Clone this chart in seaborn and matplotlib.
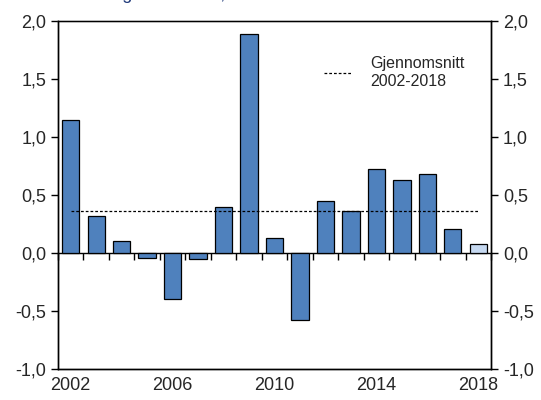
import numpy as np
import pandas as pd
import matplotlib
matplotlib.use("Agg")
import matplotlib.pyplot as plt
import seaborn as sns
import matplotlib.ticker as mticker

years = [str(y) for y in range(2002, 2019)]
values = [1.15, 0.32, 0.10, -0.04, -0.40, -0.05, 0.40, 1.89, 0.13, -0.58,
          0.45, 0.36, 0.72, 0.63, 0.68, 0.21, 0.08]
mean_value = 0.36
year_labels = ["2002", "2006", "2010", "2014", "2018"]
y_ticks = [-1.0, -0.5, 0.0, 0.5, 1.0, 1.5, 2.0]

sns.set_style("white")
plt.rcParams['font.family'] = ['Liberation Sans', 'DejaVu Sans']

df = pd.DataFrame({"year": years, "value": values})
colors = ["#4F81BD"] * (len(years) - 1) + ["#C6D9F1"]

fig = plt.figure(figsize=(5.41, 4.0), dpi=100)
ax = fig.add_axes([58/541, 1 - 369/400, (491 - 58)/541, (369 - 21)/400])

sns.barplot(data=df, x="year", y="value", hue="year", palette=colors,
            legend=False, width=0.68, edgecolor="black", linewidth=0.9,
            saturation=1, ax=ax, zorder=3)

# gjennomsnitt
ax.plot([0, len(years) - 1], [mean_value, mean_value], ls=(0, (2.2, 1.6)),
        lw=0.9, c="black", zorder=4, label="Gjennomsnitt\n2002-2018")
leg = ax.legend(loc="upper left", bbox_to_anchor=(0.58, 0.94), frameon=False,
                fontsize=11.5, handlelength=1.8, handletextpad=1.1,
                labelspacing=0.2)

ax.set_xlim(-0.5, len(years) - 0.5)
ax.set_ylim(-1.0, 2.0)
fmt = mticker.FuncFormatter(lambda v, p: f"{v:.1f}".replace(".", ","))
ax.set_yticks(y_ticks)
ax.yaxis.set_major_formatter(fmt)
ax.tick_params(axis="y", direction="out", length=5, width=1, labelsize=13, color="black")
ax.set_xlabel("")
ax.set_ylabel("")

# x-akse ved null med streker mellom stolpene
ax.spines["bottom"].set_position(("data", 0))
ax.set_xticks(np.arange(-0.5, len(years), 1.0))
ax.set_xticklabels([])
ax.tick_params(axis="x", direction="out", length=5, width=1, color="black", bottom=True)

sec = ax.secondary_xaxis(0)
sec.set_xticks([years.index(y) for y in year_labels])
sec.set_xticklabels(year_labels)
sec.tick_params(length=0, labelsize=13, pad=6)
sec.spines["bottom"].set_linewidth(1)
sec.spines["bottom"].set_color("black")

ax2 = ax.twinx()
ax2.set_ylim(-1.0, 2.0)
ax2.set_yticks(y_ticks)
ax2.yaxis.set_major_formatter(fmt)
ax2.tick_params(axis="y", direction="out", length=5, width=1, labelsize=13, color="black")

for a in (ax, ax2):
    for s in a.spines.values():
        s.set_color("black")
        s.set_linewidth(1)
ax.spines["top"].set_color("#808080")

# tittel som er kuttet i toppen av figuren
fig.text(70/541, 1 + 1.5/400, "Endring fra året før,", color="#1F3A7A",
         fontsize=13, va="baseline", ha="left")

fig.savefig("out.png", dpi=100)
